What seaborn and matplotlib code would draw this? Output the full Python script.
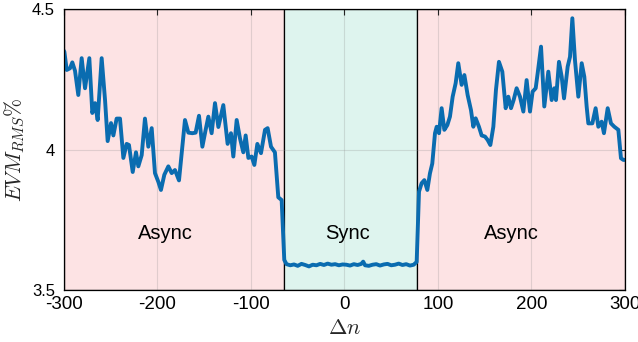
import numpy as np
import pandas as pd
import matplotlib
matplotlib.use("Agg")
import matplotlib.pyplot as plt
import seaborn as sns

# --- data ---
x_left = [-300.7, -299.6, -297.1, -293.6, -291.1, -288.2, -284.7, -281.1, -277.5, -272.9,
          -269.7, -266.8, -264.0, -259.7, -256.1, -253.3, -249.7, -247.2, -243.7, -240.1,
          -236.5, -233.0, -230.5, -226.5, -223.0, -220.5, -216.9, -213.4, -209.8, -206.2,
          -202.7, -199.1, -196.3, -192.7, -188.4, -184.8, -181.3, -177.0, -170.6, -167.0,
          -162.7, -159.2, -155.6, -152.0, -148.5, -145.6, -142.1, -138.5, -134.9, -129.6,
          -125.0, -121.4, -118.9, -115.3, -111.8, -108.2, -105.7, -102.8, -99.3, -96.4,
          -93.2, -89.3, -85.0, -82.2, -78.6, -74.4, -70.8, -67.2, -64.4]
y_left = [4.354, 4.348, 4.283, 4.289, 4.310, 4.280, 4.194, 4.325, 4.218, 4.325,
          4.130, 4.165, 4.105, 4.325, 4.176, 4.030, 4.094, 4.050, 4.110, 4.110,
          3.970, 4.020, 4.016, 3.920, 3.990, 3.940, 3.980, 4.110, 4.010, 4.076,
          3.916, 3.885, 3.856, 3.910, 3.940, 3.916, 3.927, 3.890, 4.105, 4.060,
          4.058, 4.060, 4.120, 4.010, 4.070, 4.117, 4.058, 4.165, 4.080, 4.158,
          4.020, 4.058, 3.975, 4.105, 4.040, 3.990, 4.050, 3.970, 3.975, 3.945,
          4.020, 3.987, 4.070, 4.076, 4.010, 3.990, 3.830, 3.820, 3.607]

x_sync = [-62, -58, -54, -50, -46, -42, -38, -34, -30, -26, -22, -18, -14, -10, -6, -2,
          2, 6, 10, 14, 18, 20, 22, 26, 30, 34, 38, 42, 46, 50, 54, 58, 62, 66, 70, 74]
y_sync = [3.592, 3.588, 3.591, 3.586, 3.593, 3.589, 3.584, 3.590, 3.588, 3.593, 3.589, 3.594,
          3.590, 3.592, 3.588, 3.591, 3.590, 3.587, 3.592, 3.589, 3.593, 3.601, 3.588, 3.586,
          3.590, 3.592, 3.587, 3.591, 3.593, 3.588, 3.590, 3.594, 3.589, 3.592, 3.587, 3.590]

x_right = [77.2, 79.7, 82.5, 85.4, 88.6, 91.4, 93.9, 96.8, 98.6, 101.1, 103.9, 106.8, 110.0,
           112.8, 115.7, 118.9, 121.7, 125.3, 128.2, 131.7, 135.3, 137.8, 140.3, 143.8, 146.7,
           150.3, 153.1, 156.0, 159.2, 162.0, 165.2, 168.8, 172.4, 175.2, 178.1, 180.9, 184.1,
           187.7, 191.3, 194.8, 198.4, 201.2, 204.5, 206.6, 210.2, 213.7, 218.0, 221.6, 224.4,
           226.2, 229.4, 232.3, 234.8, 238.7, 241.2, 243.7, 246.5, 250.1, 253.7, 256.5, 259.0,
           260.8, 265.1, 268.6, 271.5, 275.0, 277.5, 281.5, 285.0, 288.6, 292.9, 295.7, 298.2, 300.0]
y_right = [3.600, 3.850, 3.880, 3.891, 3.856, 3.915, 3.950, 4.058, 4.081, 4.058, 4.147, 4.070, 4.087,
           4.117, 4.188, 4.236, 4.307, 4.230, 4.265, 4.194, 4.140, 4.081, 4.111, 4.081, 4.050,
           4.046, 4.034, 4.016, 4.081, 4.212, 4.312, 4.277, 4.147, 4.188, 4.147, 4.176, 4.218,
           4.188, 4.135, 4.247, 4.135, 4.206, 4.218, 4.271, 4.366, 4.153, 4.277, 4.176, 4.218,
           4.176, 4.312, 4.259, 4.182, 4.295, 4.330, 4.467, 4.318, 4.188, 4.307, 4.259, 4.153,
           4.093, 4.093, 4.147, 4.081, 4.099, 4.058, 4.147, 4.093, 4.081, 4.070, 3.969, 3.963, 3.963]

regions = [(-300, -65, "Async"), (-65, 78, "Sync"), (78, 300, "Async")]
region_colors = ["#fde3e4", "#def4ee", "#fde3e4"]
label_x = [-192, 3, 179]
label_y = 3.70

xticks = [-300, -200, -100, 0, 100, 200, 300]
yticks = [3.5, 4.0, 4.5]
ytick_labels = ["3.5", "4", "4.5"]

df = pd.DataFrame({"dn": x_left + x_sync + x_right,
                   "evm": y_left + y_sync + y_right})

sns.set_theme(style="white")
plt.rcParams["font.family"] = ["Liberation Sans", "DejaVu Sans"]
plt.rcParams["mathtext.fontset"] = "cm"

fig = plt.figure(figsize=(6.38, 3.42), dpi=100)
ax = fig.add_axes([0.1003, 0.152, 0.8793, 0.8217])

for (a, b, _), c in zip(regions, region_colors):
    ax.axvspan(a, b, facecolor=c, edgecolor="black", linewidth=0.9, zorder=0)

for xv in xticks:
    ax.axvline(xv, color="#8a8a8a", alpha=0.25, linewidth=0.8, zorder=1)
for yv in yticks:
    ax.axhline(yv, color="#8a8a8a", alpha=0.25, linewidth=0.8, zorder=1)

sns.lineplot(data=df, x="dn", y="evm", ax=ax, color="#0a6cb0", linewidth=2.8,
             sort=False, estimator=None, zorder=3)

for (_, _, t), lx in zip(regions, label_x):
    ax.text(lx, label_y, t, ha="center", va="center", fontsize=14.5, color="black", zorder=4)

ax.set_xlim(-300, 300)
ax.set_ylim(3.5, 4.5)
ax.set_xticks(xticks)
ax.set_xticklabels([str(v) for v in xticks])
ax.set_yticks(yticks)
ax.set_yticklabels(ytick_labels)
ax.tick_params(axis="both", which="both", direction="in", length=4, width=0.8,
               top=True, right=True, colors="black")
ax.tick_params(axis="x", pad=4, labelsize=13.5)
ax.tick_params(axis="y", pad=6.5, labelsize=12)
for s in ax.spines.values():
    s.set_visible(True)
    s.set_color("black")
    s.set_linewidth(0.9)
    s.set_zorder(5)

ax.set_xlabel(r"$\Delta n$", fontsize=16, labelpad=4)
ax.set_ylabel(r"$EVM_{RMS}\%$", fontsize=15.5, labelpad=4)

fig.savefig("out.png", dpi=100)
